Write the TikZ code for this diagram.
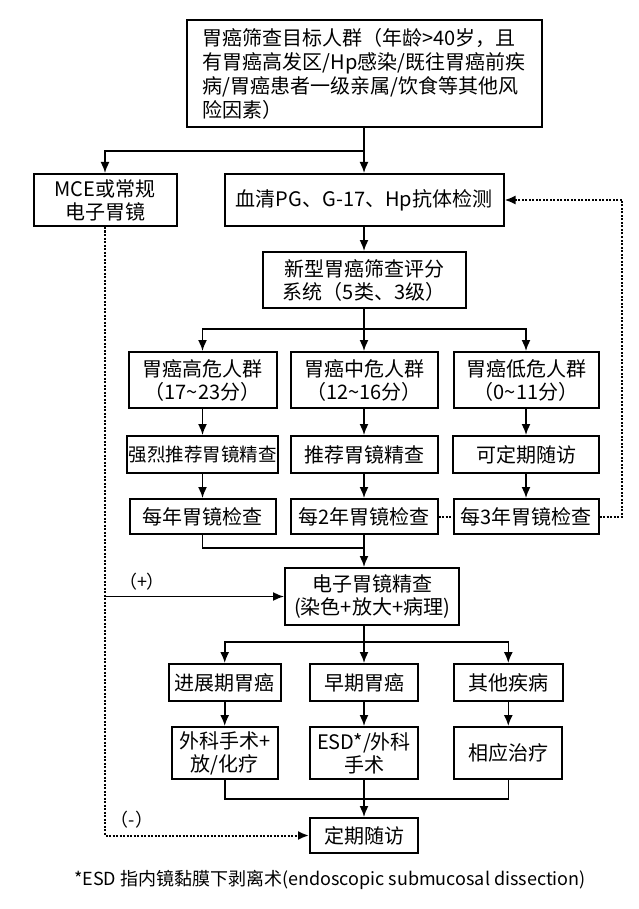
\documentclass[tikz,border=0pt]{standalone}
\usepackage{fontspec}
\setmainfont{Noto Sans CJK SC}
\usetikzlibrary{positioning,shapes,arrows.meta}

\tikzset{
  box/.style={draw, line width=2pt, align=center, inner sep=1pt, font=\fontsize{20}{23}\selectfont},
  link/.style={line width=1.6pt},
  arr/.style={line width=1.6pt, -{Latex[length=11pt,width=9pt]}},
  dotlink/.style={line width=2pt, dash pattern=on 2pt off 1.5pt},
  sign/.style={font=\fontsize{18}{20}\selectfont, inner sep=0pt}
}

\begin{document}
\begin{tikzpicture}[x=1pt,y=-1pt]
\useasboundingbox (0,0) rectangle (638,909);
\node[box, minimum width=355, minimum height=107, align=left, font=\fontsize{20}{24}\selectfont] (top) at (364,73.5) {胃癌筛查目标人群（年龄>40岁，且\\有胃癌高发区/Hp感染/既往胃癌前疾\\病/胃癌患者一级亲属/饮食等其他风\\险因素）};
\node[box, minimum width=143, minimum height=52] (mce) at (105,200) {MCE或常规\\电子胃镜};
\node[box, minimum width=279, minimum height=52] (serum) at (364,200) {血清PG、G-17、Hp抗体检测};
\node[box, minimum width=203, minimum height=56] (score) at (364,280) {新型胃癌筛查评分\\系统（5类、3级）};
\node[box, minimum width=148, minimum height=56] (high) at (202.5,380) {胃癌高危人群\\（17\textasciitilde23分）};
\node[box, minimum width=147, minimum height=56] (middle) at (364,380) {胃癌中危人群\\（12\textasciitilde16分）};
\node[box, minimum width=145, minimum height=56] (low) at (526,380) {胃癌低危人群\\（0\textasciitilde11分）};
\node[box, minimum width=151, minimum height=37, font=\fontsize{18.5}{22}\selectfont] (high2) at (202.5,454.5) {强烈推荐胃镜精查};
\node[box, minimum width=147, minimum height=37] (middle2) at (364,454.5) {推荐胃镜精查};
\node[box, minimum width=146, minimum height=37] (low2) at (526,454.5) {可定期随访};
\node[box, minimum width=146, minimum height=35] (high3) at (202.5,516.5) {每年胃镜检查};
\node[box, minimum width=147, minimum height=35] (middle3) at (364,516.5) {每2年胃镜检查};
\node[box, minimum width=145, minimum height=35] (low3) at (526,516.5) {每3年胃镜检查};
\node[box, minimum width=174, minimum height=57] (exam) at (372,596.5) {电子胃镜精查\\(染色+放大+病理)};
\node[box, minimum width=112, minimum height=37] (adv) at (224.7,682.5) {进展期胃癌};
\node[box, minimum width=108, minimum height=37] (early) at (364,682.5) {早期胃癌};
\node[box, minimum width=109, minimum height=37] (other) at (508.3,682.5) {其他疾病};
\node[box, minimum width=106, minimum height=52] (surg) at (224.7,753) {外科手术+\\放/化疗};
\node[box, minimum width=108, minimum height=52] (esd) at (364,753) {ESD*/外科\\手术};
\node[box, minimum width=108, minimum height=52] (treat) at (508.3,753) {相应治疗};
\node[box, minimum width=108, minimum height=35] (follow) at (364,835.5) {定期随访};
\node[sign] (plus) at (142,582) {（+）};
\node[sign] (minus) at (132,820) {（-）};
\node[inner sep=0pt, font=\fontsize{18}{20}\selectfont] (note) at (330,880) {*ESD 指内镜黏膜下剥离术(endoscopic submucosal dissection)};
\coordinate (b1) at (364,151);
\coordinate (b2) at (364,329);
\coordinate (m1) at (364,548);
\coordinate (b3) at (364,642);
\coordinate (m2) at (364,799);
\coordinate (fb) at (622,516.5);
\draw[link] (top.south) -- (b1);
\draw[arr] (b1) -| (mce.north);
\draw[arr] (b1) -- (serum.north);
\draw[arr] (serum) -- (score);
\draw[link] (score.south) -- (b2);
\draw[arr] (b2) -| (high.north);
\draw[arr] (b2) -- (middle.north);
\draw[arr] (b2) -| (low.north);
\draw[arr] (high) -- (high2);
\draw[arr] (middle) -- (middle2);
\draw[arr] (low) -- (low2);
\draw[arr] (high2) -- (high3);
\draw[arr] (middle2) -- (middle3);
\draw[arr] (low2) -- (low3);
\draw[link] (high3.south) |- (m1);
\draw[arr] (middle3) -- (middle3 |- exam.north);
\draw[dotlink] (middle3.east) -- (low3.west);
\draw[dotlink, -{Latex[length=11pt,width=9pt]}] (low3.east) -- (fb) |- (serum.east);
\draw[dotlink, -{Latex[length=11pt,width=9pt]}] (mce.south) |- (follow.west);
\draw[arr] (mce.south |- exam.west) -- (exam.west);
\draw[link] (b3 |- exam.south) -- (b3);
\draw[arr] (b3) -| (adv.north);
\draw[arr] (b3) -- (early.north);
\draw[arr] (b3) -| (other.north);
\draw[arr] (adv) -- (surg);
\draw[arr] (early) -- (esd);
\draw[arr] (other) -- (treat);
\draw[link] (surg.south) |- (m2);
\draw[link] (treat.south) |- (m2);
\draw[arr] (esd) -- (follow);
\end{tikzpicture}
\end{document}
